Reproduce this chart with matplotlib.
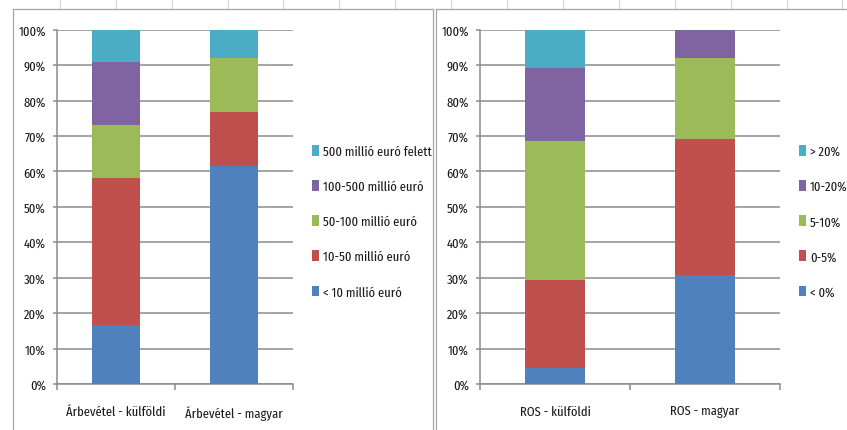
import matplotlib
matplotlib.use('agg')
import matplotlib.pyplot as plt
from matplotlib import font_manager
from matplotlib.lines import Line2D
from matplotlib.ticker import PercentFormatter, FixedLocator

installed = {f.name for f in font_manager.fontManager.ttflist}
fams = [f for f in ['Fira Sans Extra Condensed', 'Roboto Condensed', 'DejaVu Sans'] if f in installed]
plt.rcParams['font.family'] = fams

# data (percent of firms)
revenue_cats = ['Árbevétel - külföldi', 'Árbevétel - magyar']
revenue_labels = ['< 10 millió euró', '10-50 millió euró', '50-100 millió euró',
                  '100-500 millió euró', '500 millió euró felett']
rev_lt10 = [16.6, 61.5]
rev_10_50 = [41.5, 15.3]
rev_50_100 = [15.1, 15.2]
rev_100_500 = [17.6, 0.0]
rev_500plus = [9.2, 8.0]

ros_cats = ['ROS - külföldi', 'ROS - magyar']
ros_labels = ['< 0%', '0-5%', '5-10%', '10-20%', '> 20%']
ros_neg = [4.4, 30.8]
ros_0_5 = [25.0, 38.3]
ros_5_10 = [39.1, 22.9]
ros_10_20 = [20.7, 8.0]
ros_20plus = [10.8, 0.0]

colors = ['#4F81BD', '#C0504D', '#9BBB59', '#8064A2', '#4BACC6']
grid_col = '#8c8c8c'
txt_col = '#1a1a1a'
fs = 9.8

W, H = 847, 431
fig = plt.figure(figsize=(W / 100, H / 100), dpi=100)


def stacked(ax, cats, series, labels, legend_x):
    x = list(range(len(cats)))
    bottom = [0.0] * len(cats)
    for vals, lab, c in zip(series, labels, colors):
        ax.bar(x, vals, width=0.4, bottom=bottom, color=c, label=lab, zorder=3)
        bottom = [b + v for b, v in zip(bottom, vals)]
    ax.set_xlim(-0.5, len(cats) - 0.5)
    ax.set_ylim(0, 100)
    ax.set_yticks(range(0, 101, 10))
    ax.yaxis.set_major_formatter(PercentFormatter(decimals=0))
    ax.yaxis.grid(True, color=grid_col, linewidth=1.1, zorder=0)
    ax.set_xticks(x)
    ax.set_xticklabels(cats)
    ax.xaxis.set_minor_locator(FixedLocator([i - 0.5 for i in range(len(cats) + 1)]))
    ax.tick_params(axis='x', which='major', length=0, pad=15, labelsize=fs, labelcolor=txt_col)
    ax.tick_params(axis='x', which='minor', length=4, color=grid_col, width=1.1)
    ax.tick_params(axis='y', length=3, color=grid_col, width=1.1, pad=5,
                   labelsize=fs, labelcolor=txt_col)
    for s in ['top', 'right']:
        ax.spines[s].set_visible(False)
    for s in ['left', 'bottom']:
        ax.spines[s].set_color(grid_col)
        ax.spines[s].set_linewidth(1.1)
    h, l = ax.get_legend_handles_labels()
    ax.legend(h[::-1], l[::-1], loc='center left', bbox_to_anchor=(legend_x, 1 - 222.5 / H),
              bbox_transform=fig.transFigure, frameon=False, fontsize=fs,
              handlelength=0.55, handleheight=0.85, handletextpad=0.25,
              labelspacing=1.65, borderpad=0, borderaxespad=0, labelcolor=txt_col)


y0 = 1 - 385 / H
y1 = 1 - 30.7 / H
ax1 = fig.add_axes([57 / W, y0, (293 - 57) / W, y1 - y0])
stacked(ax1, revenue_cats, [rev_lt10, rev_10_50, rev_50_100, rev_100_500, rev_500plus],
        revenue_labels, 312 / W)

ax2 = fig.add_axes([480 / W, y0, (780 - 480) / W, y1 - y0])
stacked(ax2, ros_cats, [ros_neg, ros_0_5, ros_5_10, ros_10_20, ros_20plus],
        ros_labels, 799 / W)

# spreadsheet cells above the charts and the chart frames
for k in range(15):
    xc = (59.8 + 55.9 * k) / W
    fig.add_artist(Line2D([xc, xc], [1 - 9.5 / H, 1], color='#d4d4d4', lw=0.8))
frame = '#a6a6a6'
ytop = 1 - 9.5 / H
fig.add_artist(Line2D([13 / W, 433 / W], [ytop, ytop], color=frame, lw=0.9))
fig.add_artist(Line2D([436 / W, 1], [ytop, ytop], color=frame, lw=0.9))
for xx in [13, 433, 436]:
    fig.add_artist(Line2D([xx / W, xx / W], [0, ytop], color=frame, lw=0.9))

plt.savefig('out.png', dpi=100)
